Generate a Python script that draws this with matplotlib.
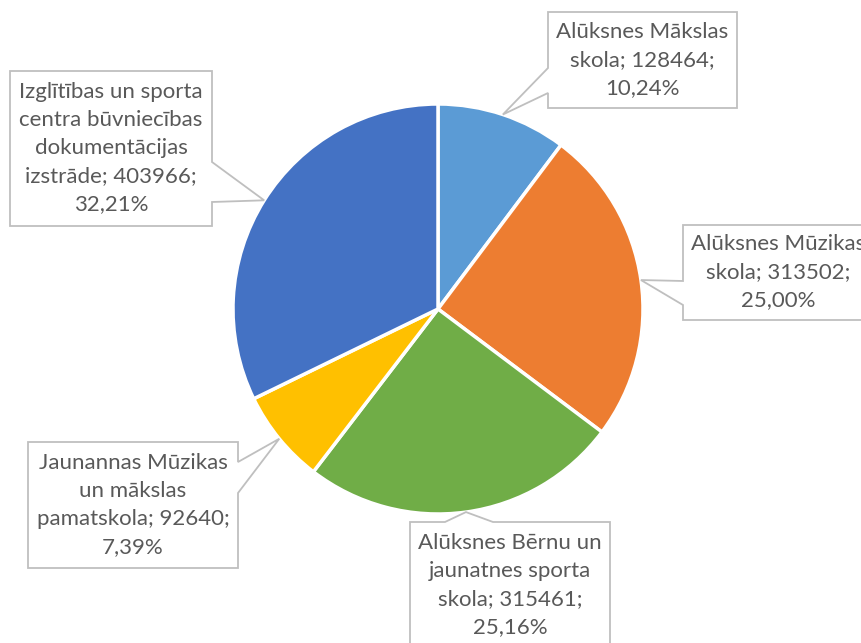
import numpy as np
import matplotlib

matplotlib.use("Agg")
import matplotlib.pyplot as plt
from matplotlib.patches import Polygon

plt.rcParams["font.family"] = ["Lato", "DejaVu Sans"]

# data
names = [
    "Alūksnes Mākslas\nskola",
    "Alūksnes Mūzikas\nskola",
    "Alūksnes Bērnu un\njaunatnes sporta\nskola",
    "Jaunannas Mūzikas\nun mākslas\npamatskola",
    "Izglītības un sporta\ncentra būvniecības\ndokumentācijas\nizstrāde",
]
values = [128464, 313502, 315461, 92640, 403966]
colors = ["#5B9BD5", "#ED7D31", "#70AD47", "#FFC000", "#4472C4"]

# callout layout, in pixels (y down): box, side with the pointer, pointer base
boxes = [
    (548, 12, 737, 108),
    (683, 225, 873, 320),
    (410, 522, 610, 648),
    (28, 442, 238, 568),
    (10, 71, 212, 226),
]
sides = ["left", "left", "top", "right", "right"]
bases = [(68, 93), (281, 305), (445, 493), (462, 493), (162, 202)]

W, H = 862, 643
cx, cy, R = 438, 309, 205

fig = plt.figure(figsize=(W / 100, H / 100), dpi=100)
ax = fig.add_axes([0, 0, 1, 1])

ax.pie(
    values, colors=colors, startangle=-90, counterclock=True,
    center=(cx, cy), radius=R,
    wedgeprops={"edgecolor": "white", "linewidth": 2.5},
)
ax.set_xlim(0, W)
ax.set_ylim(H, 0)
ax.set_aspect("equal")
ax.axis("off")

total = sum(values)
cum = np.cumsum([0] + values[:-1])
for i, v in enumerate(values):
    pct = 100 * v / total
    text = f"{names[i]}; {v};\n{pct:.2f}%".replace(".", ",")
    mid = 2 * np.pi * (cum[i] + v / 2) / total
    tip = (cx + R * np.sin(mid), cy - R * np.cos(mid))
    x0, y0, x1, y1 = boxes[i]
    b0, b1 = bases[i]
    if sides[i] == "top":
        pts = [(x0, y0), (b0, y0), tip, (b1, y0), (x1, y0), (x1, y1), (x0, y1)]
    elif sides[i] == "right":
        pts = [(x0, y0), (x1, y0), (x1, b0), tip, (x1, b1), (x1, y1), (x0, y1)]
    else:
        pts = [(x0, y0), (x1, y0), (x1, y1), (x0, y1), (x0, b1), tip, (x0, b0)]
    ax.add_patch(Polygon(pts, closed=True, facecolor="white",
                         edgecolor="#BFBFBF", linewidth=1.3, zorder=5))
    ax.text((x0 + x1) / 2, (y0 + y1) / 2, text, ha="center", va="center",
            multialignment="center", fontsize=16, color="#595959",
            linespacing=1.5, zorder=6)

fig.savefig("out.png", dpi=100)
